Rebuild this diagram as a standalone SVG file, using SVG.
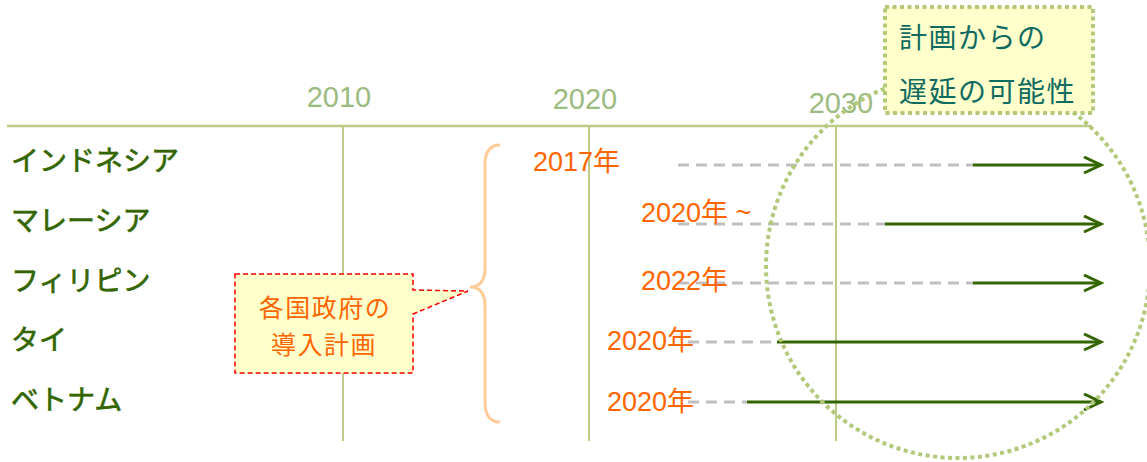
<svg xmlns="http://www.w3.org/2000/svg" width="1147" height="462" viewBox="0 0 1147 462">
<style>
.axis{stroke:#bccb85;stroke-width:2;fill:none}
.yr{font-family:"Liberation Sans",Arial,sans-serif;font-size:29px;fill:#9cbb80;text-anchor:middle}
.cty{font-family:"Noto Sans CJK JP",sans-serif;font-size:28px;fill:#336600;stroke:#336600;stroke-width:0.6px}
.plan{font-family:"Liberation Sans","Noto Sans CJK JP",sans-serif;font-size:27px;fill:#ff6600}
.dash{stroke:#bfbfbf;stroke-width:3;stroke-dasharray:11 7;fill:none}
.arr{stroke:#336600;stroke-width:3;fill:none;marker-end:url(#ah)}
.call{font-family:"Noto Sans CJK JP",sans-serif;font-size:25px;fill:#ff6600;text-anchor:middle;letter-spacing:1.5px}
.note{font-family:"Noto Sans CJK JP",sans-serif;font-size:28px;fill:#0f6b5f;letter-spacing:1.5px}
</style>
<defs>
<marker id="ah" markerUnits="userSpaceOnUse" markerWidth="22" markerHeight="22" refX="18" refY="9" orient="auto" viewBox="0 0 22 22">
<path d="M1,1 L18,9 L1,17" fill="none" stroke="#336600" stroke-width="3"/>
</marker>
</defs>
<g id="axis">
<line class="axis" x1="7" y1="126" x2="1092" y2="126" style="stroke-width:2.5"/>
<line class="axis" x1="343" y1="126" x2="343" y2="441"/>
<line class="axis" x1="589" y1="126" x2="589" y2="441"/>
<line class="axis" x1="836" y1="126" x2="836" y2="441"/>
<text class="yr" x="339" y="107">2010</text>
<text class="yr" x="585" y="109">2020</text>
<text class="yr" x="841" y="113">2030</text>
</g>
<g id="countries">
<text class="cty" x="11" y="171">インドネシア</text>
<text class="cty" x="11" y="231">マレーシア</text>
<text class="cty" x="11" y="291">フィリピン</text>
<text class="cty" x="11" y="350">タイ</text>
<text class="cty" x="11" y="410">ベトナム</text>
</g>
<g id="connectors">
<line class="dash" x1="678" y1="165" x2="973" y2="165"/>
<line class="arr" x1="973" y1="165" x2="1101" y2="165"/>
<line class="dash" x1="678" y1="224" x2="885" y2="224"/>
<line class="arr" x1="885" y1="224" x2="1101" y2="224"/>
<line class="dash" x1="678" y1="283" x2="973" y2="283"/>
<line class="arr" x1="973" y1="283" x2="1101" y2="283"/>
<line class="dash" x1="688" y1="342" x2="777" y2="342"/>
<line class="arr" x1="777" y1="342" x2="1101" y2="342"/>
<line class="dash" x1="688" y1="402" x2="747" y2="402"/>
<line class="arr" x1="747" y1="402" x2="1101" y2="402"/>
</g>
<g id="plans">
<text class="plan" x="533" y="171">2017年</text>
<text class="plan" x="641" y="222">2020年 ~</text>
<text class="plan" x="641" y="290">2022年</text>
<text class="plan" x="607" y="350">2020年</text>
<text class="plan" x="607" y="411">2020年</text>
</g>
<g id="brace">
<path d="M500,145 Q485,145 485,165 V268 Q485,287 470,287 Q485,287 485,306 V402 Q485,422 500,422" fill="none" stroke="#ffcc99" stroke-width="3"/>
</g>
<g id="callout">
<path d="M235,274 H413 V290 L468,291 L413,314 V373 H235 Z" fill="#ffffcc" stroke="#ff0000" stroke-width="1.5" stroke-dasharray="5 3"/>
<text class="call" x="325" y="317">各国政府の</text>
<text class="call" x="324" y="354">導入計画</text>
</g>
<g id="delay-circle">
<circle cx="958" cy="266" r="192" fill="none" stroke="#b3c97a" stroke-width="4" stroke-dasharray="4 3.5"/>
</g>
<g id="delay-note">
<rect x="885" y="7" width="208" height="106" fill="#ffffcc" stroke="#b3c97a" stroke-width="4" stroke-dasharray="4 3.5"/>
<text class="note" x="899" y="48">計画からの</text>
<text class="note" x="899" y="102">遅延の可能性</text>
</g>
</svg>
